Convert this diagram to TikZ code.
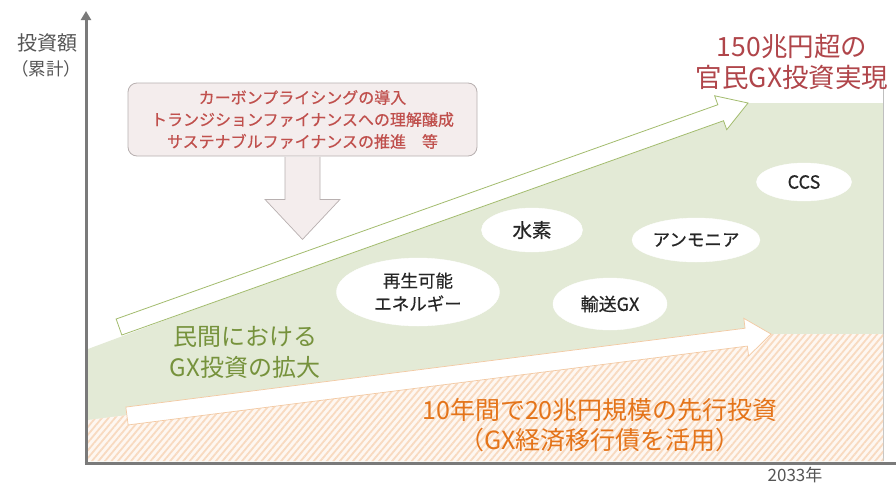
\documentclass[tikz,border=0pt]{standalone}
\usepackage{fontspec}
\setmainfont{Noto Sans CJK JP}
\newfontfamily\gxmed[FakeBold=0.5]{Noto Sans CJK JP}
\usetikzlibrary{calc,patterns.meta,shapes.geometric,arrows.meta}
\definecolor{gxgreen}{HTML}{E3EAD6}
\definecolor{gxgreenline}{HTML}{A3BC6E}
\definecolor{gxgreentext}{HTML}{76923C}
\definecolor{gxorangetext}{HTML}{E4741A}
\definecolor{gxorangeline}{HTML}{F3C9A2}
\definecolor{gxred}{HTML}{B0454A}
\definecolor{boxred}{HTML}{C0504D}
\definecolor{boxfill}{HTML}{F4EDED}
\definecolor{boxline}{HTML}{B8B0B0}
\definecolor{stripe}{HTML}{F8DAC0}
\definecolor{stripebg}{HTML}{FEF7F1}
\definecolor{axisgray}{HTML}{7A7A7A}
\definecolor{labelgray}{HTML}{555555}

\newcommand{\gxarrow}[6]{%
  \coordinate (#2-hb) at ($(#3)!#6!(#2)$);
  \draw[#1] ($(#2)!#4!90:(#3)$) -- ($(#2-hb)!#4!-90:(#2)$) -- ($(#2-hb)!#5!-90:(#2)$) -- (#3) -- ($(#2-hb)!#5!90:(#2)$) -- ($(#2-hb)!#4!90:(#2)$) -- ($(#2)!#4!-90:(#3)$) -- cycle;}

\tikzset{
  bubble/.style={ellipse, fill=white, draw=white, inner sep=0pt, align=center,
    text=black!85, font=\gxmed\fontsize{17.5pt}{23pt}\selectfont},
  infobox/.style={rectangle, rounded corners=9pt, fill=boxfill, draw=boxline, line width=0.8pt,
    align=center, text=boxred, font=\gxmed\fontsize{16pt}{22pt}\selectfont, inner sep=0pt},
  downarr/.style={fill=boxfill, draw=boxline, line width=0.7pt},
  bigarrowgreen/.style={fill=white, draw=gxgreenline, line width=0.8pt},
  bigarroworange/.style={fill=white, draw=gxorangeline, line width=0.7pt},
  axisline/.style={draw=axisgray, line width=3pt},
  plaintext/.style={inner sep=0pt, align=center},
}

\begin{document}
\begin{tikzpicture}[x=1pt,y=-1pt]
\useasboundingbox (0,0) rectangle (896,485);
\fill[white] (0,0) rectangle (896,485);

% regions
\fill[gxgreen] (88,349) -- (748,103) -- (883,103) -- (883,461) -- (88,461) -- cycle;
\draw[black!25, line width=0.5pt] (883,80) -- (883,461);
\fill[stripebg] (88,420) -- (771,334) -- (883,334) -- (883,461) -- (88,461) -- cycle;
\fill[pattern={Lines[angle=50,distance=5pt,line width=1.8pt]}, pattern color=stripe]
  (88,420) -- (771,334) -- (883,334) -- (883,461) -- (88,461) -- cycle;

% big arrows
\coordinate (a1s) at (119,327);
\coordinate (a1t) at (748,103);
\gxarrow{bigarrowgreen}{a1s}{a1t}{8.5pt}{18pt}{29pt}
\coordinate (a2s) at (127,416);
\coordinate (a2t) at (771,334);
\gxarrow{bigarroworange}{a2s}{a2t}{9pt}{19pt}{25pt}

% bubbles
\node[bubble, minimum width=163pt, minimum height=68pt] (renew) at (418,292) {再生可能\\エネルギー};
\node[bubble, minimum width=101pt, minimum height=44pt, font=\gxmed\fontsize{19.5pt}{23pt}\selectfont] (hydrogen) at (532,230) {水素};
\node[bubble, minimum width=114pt, minimum height=52pt, font=\gxmed\fontsize{18pt}{23pt}\selectfont] (transport) at (610,304) {輸送GX};
\node[bubble, minimum width=128pt, minimum height=44pt] (ammonia) at (696,240) {アンモニア};
\node[bubble, minimum width=95pt, minimum height=38pt, font=\gxmed\fontsize{18pt}{23pt}\selectfont] (ccs) at (804,182) {CCS};

% texts
\node[plaintext, text=gxgreentext, font=\fontsize{24pt}{31pt}\selectfont] (private) at (245,352) {民間における\\GX投資の拡大};
\node[plaintext, text=gxorangetext, font=\fontsize{25pt}{30pt}\selectfont] (public) at (600,425) {10年間で20兆円規模の先行投資\\（GX経済移行債を活用）};
\node[plaintext, text=gxred, font=\fontsize{26.5pt}{31pt}\selectfont] (goal) at (792,62) {150兆円超の\\官民GX投資実現};

% axes
\coordinate (origin) at (86,463);
\coordinate (ytop) at (86,11);
\coordinate (xend) at (896,463);
\draw[axisline, -{Triangle[width=10pt,length=9pt]}] (origin) -- (ytop);
\draw[axisline] ([xshift=-1.5pt]origin) -- (xend);
\node[plaintext, text=labelgray, font=\fontsize{20pt}{22pt}\selectfont] (ylab1) at (47,43) {投資額};
\node[plaintext, text=labelgray, font=\fontsize{17.5pt}{20pt}\selectfont] (ylab2) at (46,69) {（累計）};
\node[plaintext, text=labelgray, font=\fontsize{17pt}{18pt}\selectfont] (year) at (795,475) {2033年};

% policy box and down arrow
\node[infobox, minimum width=349pt, minimum height=73pt] (box) at (302.5,119.5) {カーボンプライシングの導入\\トランジションファイナンスへの理解醸成\\サステナブルファイナンスの推進　等};
\coordinate (dtip) at ($(box.south)+(0,83)$);
\draw[downarr] ($(box.south)+(-17.5,0.4)$) -- ($(box.south)+(-17.5,43)$) -- ($(box.south)+(-37.5,43)$) -- (dtip) -- ($(box.south)+(37.5,43)$) -- ($(box.south)+(17.5,43)$) -- ($(box.south)+(17.5,0.4)$);
\end{tikzpicture}
\end{document}
